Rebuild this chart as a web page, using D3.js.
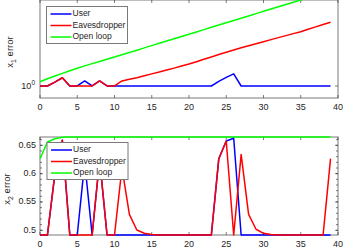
<!DOCTYPE html>
<html>
<head>
<meta charset="utf-8">
<script src="https://cdn.jsdelivr.net/npm/d3@7"></script>
<style>
  body { margin: 0; background: #fff; }
  text { font-family: "Liberation Sans", Arial, sans-serif; fill: #262626; }
</style>
</head>
<body>
<svg id="chart" width="343" height="252"></svg>
<script>
// time steps 0..39
const steps = d3.range(0, 40);
const seriesNames = ["User", "Eavesdropper", "Open loop"];
const seriesColors = ["#0000ff", "#ff0000", "#00ff00"];
const xTicks = [0, 5, 10, 15, 20, 25, 30, 35, 40];

// top panel: x1 error (log axis)
const userX1 = [1, 1, 1.1, 1.22, 1, 1, 1.13, 1, 1.13, 1, 1, 1, 1, 1, 1, 1, 1, 1, 1, 1,
  1, 1, 1, 1, 1.12, 1.23, 1.34, 1, 1, 1, 1, 1, 1, 1, 1, 1, 1, 1, 1, 1];
const eveX1 = [1, 1, 1.1, 1.22, 1, 1, 1, 1, 1.13, 1, 1, 1.13, 1.18, 1.22, 1.28, 1.34, 1.40, 1.47, 1.54, 1.62,
  1.70, 1.80, 1.91, 2.02, 2.14, 2.26, 2.39, 2.52, 2.65, 2.78, 2.92, 3.07, 3.22, 3.38, 3.55, 3.72, 3.94, 4.18, 4.42, 4.67];
const openX1 = [1.109, 1.191, 1.274, 1.358, 1.445, 1.535, 1.626, 1.718, 1.811, 1.91, 2.014, 2.128, 2.249, 2.377, 2.512, 2.655, 2.805, 2.965, 3.133, 3.311,
  3.499, 3.698, 3.908, 4.13, 4.365, 4.613, 4.875, 5.152, 5.445, 5.754, 6.081, 6.427, 6.792, 7.178, 7.586, 8.017, 8.47, 8.95, 9.46, 10.0];
const x1Domain = [0.748, 8];

// bottom panel: x2 error
const lo = 0.4917;
const userX2 = [lo, lo, 0.600, 0.659, lo, lo, 0.62, lo, 0.625, lo, lo, lo, lo, lo, lo, lo, lo, lo, lo, lo,
  lo, lo, lo, lo, 0.6264, 0.6576, 0.6624, lo, lo, lo, lo, lo, lo, lo, lo, lo, lo, lo, lo, lo];
const eveX2 = [lo, lo, 0.600, 0.659, lo, lo, lo, lo, 0.625, lo, lo, 0.61, 0.528, 0.5005, 0.4947, 0.4925, 0.4919, 0.4918, lo, lo,
  lo, lo, lo, lo, 0.6264, 0.6576, lo, 0.634, 0.528, 0.5018, 0.4947, 0.4925, 0.4919, 0.4918, lo, lo, lo, lo, lo, 0.6264];
const openX2 = [0.6264, 0.6558, 0.6617, 0.6641, 0.6645, 0.6647, 0.6647, 0.6647, 0.6647, 0.6647, 0.6647, 0.6647, 0.6647, 0.6647, 0.6647, 0.6647, 0.6647, 0.6647, 0.6647, 0.6647,
  0.6647, 0.6647, 0.6647, 0.6647, 0.6647, 0.6647, 0.6647, 0.6647, 0.6647, 0.6647, 0.6647, 0.6647, 0.6647, 0.6647, 0.6647, 0.6647, 0.6647, 0.6647, 0.6647, 0.6647];
const x2Domain = [0.4917, 0.6647];
const x2Ticks = [0.5, 0.55, 0.6, 0.65];

const svg = d3.select("#chart");
const axisColor = "#262626";
const left = 40, right = 338;

const x = d3.scaleLinear().domain([0, 40]).range([left, right]);

function drawPanel(top, bottom, y, data, opts) {
  const g = svg.append("g");
  const clipId = "clip" + top;
  svg.append("clipPath").attr("id", clipId)
    .append("rect").attr("x", left - 2).attr("y", top - opts.clipPad)
    .attr("width", right - left + 4).attr("height", bottom - top + 4 + opts.clipPad);

  // box and ticks first, lines drawn over them
  const tl = 3;
  const ax = g.append("g").attr("stroke", axisColor).attr("stroke-width", 0.6).attr("fill", "none");
  ax.append("rect").attr("x", left).attr("y", top).attr("width", right - left).attr("height", bottom - top)
    .attr("stroke", "#7a7a7a").attr("stroke-width", 1);
  xTicks.forEach(t => {
    ax.append("line").attr("x1", x(t)).attr("x2", x(t)).attr("y1", bottom).attr("y2", bottom - tl);
    ax.append("line").attr("x1", x(t)).attr("x2", x(t)).attr("y1", top).attr("y2", top + tl);
    g.append("text").attr("x", x(t)).attr("y", bottom + 10)
      .attr("text-anchor", "middle").attr("dominant-baseline", "middle")
      .style("font-size", "9px").text(t);
  });
  (opts.minor || []).forEach(t => {
    ax.append("line").attr("x1", left).attr("x2", left + 2).attr("y1", y(t)).attr("y2", y(t));
    ax.append("line").attr("x1", right).attr("x2", right - 2).attr("y1", y(t)).attr("y2", y(t));
  });
  opts.yTicks.forEach(t => {
    ax.append("line").attr("x1", left).attr("x2", left + tl).attr("y1", y(t)).attr("y2", y(t));
    ax.append("line").attr("x1", right).attr("x2", right - tl).attr("y1", y(t)).attr("y2", y(t));
  });
  opts.yLabels(g);

  const line = d3.line().x((d, i) => x(steps[i])).y(d => y(d));
  const lines = g.append("g").attr("clip-path", `url(#${clipId})`);
  data.forEach((vals, k) => {
    lines.append("path").datum(vals)
      .attr("d", line)
      .attr("fill", "none")
      .attr("stroke", seriesColors[k])
      .attr("stroke-width", 1.5)
      .attr("stroke-linejoin", "round");
  });

  // y axis title
  const yt = g.append("text")
    .attr("transform", `translate(${opts.titleX},${(top + bottom) / 2 + 3}) rotate(-90)`)
    .attr("text-anchor", "middle")
    .style("font-size", "9.5px");
  yt.append("tspan").text("x");
  yt.append("tspan").attr("dy", 2.5).style("font-size", "7px").text(opts.sub);
  yt.append("tspan").attr("dy", -2.5).text(" error");

  // legend
  const lg = g.append("g").attr("transform", `translate(${opts.legend[0]},${opts.legend[1]})`);
  lg.append("rect").attr("width", 81).attr("height", 37)
    .attr("fill", "#fff").attr("stroke", "#7a7a7a").attr("stroke-width", 1);
  seriesNames.forEach((name, k) => {
    const ly = 7.5 + k * 11.5;
    lg.append("line").attr("x1", 4).attr("x2", 25).attr("y1", ly).attr("y2", ly)
      .attr("stroke", seriesColors[k]).attr("stroke-width", 1.5);
    lg.append("text").attr("x", 26).attr("y", ly).attr("dominant-baseline", "middle")
      .style("font-size", "8.5px").text(name);
  });
}

// top panel
const y1 = d3.scaleLog().domain(x1Domain).range([98, 0]);
drawPanel(0, 98, y1, [userX1, eveX1, openX1], {
  yTicks: [1],
  clipPad: 0,
  sub: "1",
  titleX: 13,
  legend: [46.5, 6.5],
  yLabels: g => {
    const t = g.append("text").attr("x", 35).attr("y", y1(1) + 3.5)
      .attr("text-anchor", "end").style("font-size", "9px");
    t.append("tspan").text("10");
    t.append("tspan").attr("dy", -4).style("font-size", "6.5px").text("0");
  }
});

// bottom panel
const y2 = d3.scaleLinear().domain(x2Domain).range([235, 137]);
drawPanel(137, 235, y2, [userX2, eveX2, openX2], {
  yTicks: x2Ticks,
  minor: d3.range(0.5, 0.665, 0.01),
  clipPad: 2,
  sub: "2",
  titleX: 10,
  legend: [47, 142.5],
  yLabels: g => {
    x2Ticks.forEach(t => {
      g.append("text").attr("x", 36).attr("y", y2(t))
        .attr("text-anchor", "end").attr("dominant-baseline", "middle")
        .style("font-size", "9px").text(t);
    });
  }
});
</script>
</body>
</html>
